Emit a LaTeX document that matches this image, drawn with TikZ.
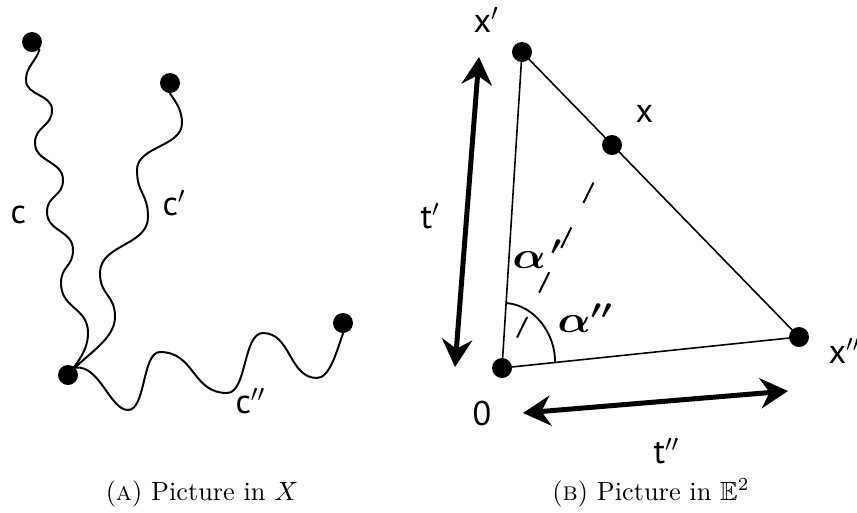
\documentclass[tikz,border=0pt]{standalone}
\usepackage{fontspec}
\usepackage{amsmath,amssymb}
\usepackage{graphicx}
\newfontfamily\labfont{PT Sans}
\usetikzlibrary{arrows.meta}
\begin{document}
\begin{tikzpicture}[x=0.38pt,y=-0.38pt,
  dot/.style={circle,fill=black,inner sep=0pt,minimum size=7.6pt},
  lab/.style={inner sep=0pt,anchor=base west,font=\labfont\fontsize{13}{15}\selectfont},
  alab/.style={inner sep=0pt,anchor=base west,font=\fontsize{14}{16}\selectfont},
  captext/.style={inner sep=0pt,anchor=base,font=\fontsize{10}{12}\selectfont},
  wave/.style={line width=0.75pt,line cap=round},
  edge/.style={line width=0.6pt},
  dashline/.style={line width=0.75pt,dash pattern=on 8.7pt off 10.3pt,shorten <=12.9pt,shorten >=15.2pt},
  bigarrow/.style={line width=1.9pt,{Stealth[length=10.5pt,width=11.5pt,inset=3.5pt]}-{Stealth[length=10.5pt,width=11.5pt,inset=3.5pt]}}
]
\useasboundingbox (0,0) rectangle (857,512);
% ---------- left panel ----------
\node[dot] (d1) at (32,42) {};
\node[dot] (d2) at (170,83) {};
\node[dot] (d3) at (343,323) {};
\node[dot] (j) at (68,375) {};
% curve c
\draw[wave] (d1.south east) .. controls (36,62) and (26,66) .. (26,80)
  .. controls (26,96) and (52,94) .. (52,110)
  .. controls (52,127) and (35,126) .. (35,143)
  .. controls (35,162) and (63,161) .. (63,180)
  .. controls (63,197) and (47,195) .. (47,212)
  .. controls (47,232) and (73,230) .. (73,250)
  .. controls (73,267) and (61,266) .. (61,283)
  .. controls (61,309) and (88,307) .. (88,333)
  .. controls (88,350) and (78,362) .. (j.center);
% curve c'
\draw[wave] (d2.south) .. controls (176,102) and (182,110) .. (182,123)
  .. controls (182,147) and (137,146) .. (137,170)
  .. controls (137,194) and (148,193) .. (148,217)
  .. controls (148,246) and (100,244) .. (100,273)
  .. controls (100,296) and (115,294) .. (115,317)
  .. controls (115,340) and (85,355) .. (j.center);
% curve c''
\draw[wave] (j.north east) .. controls (100,365) and (110,410) .. (128,410)
  .. controls (146,410) and (142,352) .. (160,352)
  .. controls (195,352) and (192,393) .. (227,393)
  .. controls (247,393) and (243,333) .. (263,333)
  .. controls (291,333) and (289,378) .. (317,378)
  .. controls (330,378) and (337,350) .. (d3.south);
\node[lab] (lc) at (10,223) {c};
\node[lab] (lc1) at (162,215) {c$'$};
\node[lab] (lc2) at (235,413) {c$''$};
% ---------- right panel ----------
\node[dot] (xp) at (522,52) {};
\node[dot] (xm) at (612,145) {};
\node[dot] (xpp) at (799,337) {};
\node[dot] (o) at (502,368) {};
\draw[edge] (o.center) -- (xp.center) -- (xpp.center) -- (o.center);
\draw[dashline] (o.center) -- (xm.center);
\coordinate (arcA) at (506,303);
\coordinate (arcB) at (555,363);
\draw[edge,line width=0.7pt] (arcA) .. controls (535,305) and (556,335) .. (arcB);
\coordinate (tpa) at (479,57);
\coordinate (tpb) at (455,367);
\draw[bigarrow] (tpa) -- (tpb);
\coordinate (tqa) at (523,413);
\coordinate (tqb) at (788,391);
\draw[bigarrow] (tqa) -- (tqb);
\node[lab] (lx1) at (473,32) {x$'$};
\node[lab] (lx) at (635,122) {x};
\node[lab] (lx2) at (828,363) {x$''$};
\node[lab] (l0) at (472,425) {0};
\node[lab] (lt1) at (420,228) {t$'$};
\node[lab] (lt2) at (653,463) {t$''$};
\node[alab] (a1) at (512,268) {\scalebox{1.15}[1]{$\boldsymbol{\alpha}^{\mkern3mu\boldsymbol{\prime}}$}};
\node[alab] (a2) at (557,332) {\scalebox{1.15}[1]{$\boldsymbol{\alpha''}$}};
% ---------- captions ----------
\node[captext] (capa) at (202,500) {(\textsc{a}) Picture in $X$};
\node[captext] (capb) at (651,500) {(\textsc{b}) Picture in $\mathbb{E}^2$};
\end{tikzpicture}
\end{document}
